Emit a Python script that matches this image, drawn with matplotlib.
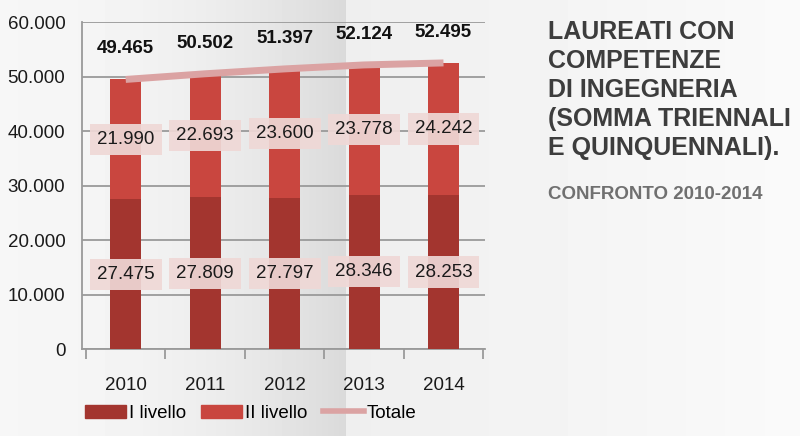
import numpy as np
import matplotlib.pyplot as plt
from matplotlib.ticker import FuncFormatter
from matplotlib.patches import Patch
from matplotlib.lines import Line2D

years = ['2010', '2011', '2012', '2013', '2014']
livello_1 = [27475, 27809, 27797, 28346, 28253]
livello_2 = [21990, 22693, 23600, 23778, 24242]
totale = [49465, 50502, 51397, 52124, 52495]

c_l1 = '#a3352f'
c_l2 = '#c9463f'
c_tot = '#dba3a3'
c_box = '#efd8d6'

def fmt_it(v):
    return f'{v:,.0f}'.replace(',', '.')

plt.rcParams['font.family'] = ['Liberation Sans', 'DejaVu Sans']

fig = plt.figure(figsize=(8, 4.36), dpi=100)

# background: light gray gradient with darker band, then lighter right side
bg = fig.add_axes([0, 0, 1, 1], zorder=-10)
xs = np.linspace(0, 1, 800)
edge = 0.432
vals = np.where(xs < edge, 0.965 - 0.11 * (xs / edge) ** 2.2, 0.935 + 0.045 * (xs - edge) / (1 - edge))
bg.imshow(vals[None, :], aspect='auto', cmap='gray', vmin=0, vmax=1, extent=[0, 1, 0, 1])
bg.axis('off')

ax = fig.add_axes([0.1025, 0.1995, 0.5035, 0.75])
ax.patch.set_alpha(0)
x = np.arange(len(years))
w = 0.39

ax.bar(x, livello_1, w, color=c_l1, zorder=3)
ax.bar(x, livello_2, w, bottom=livello_1, color=c_l2, zorder=3)
ax.plot(x, totale, color=c_tot, lw=5, solid_capstyle='butt', zorder=4)

box = dict(boxstyle='square,pad=0.38', fc=c_box, ec='none', alpha=0.92)
for i in range(len(years)):
    ax.text(x[i], livello_1[i] / 2, fmt_it(livello_1[i]), ha='center', va='center',
            fontsize=13.5, color='#1a1a1a', bbox=box, zorder=5)
    ax.text(x[i], livello_1[i] + livello_2[i] / 2, fmt_it(livello_2[i]), ha='center', va='center',
            fontsize=13.5, color='#1a1a1a', bbox=box, zorder=5)
    ax.annotate(fmt_it(totale[i]), (x[i], totale[i]), xytext=(0, 22), textcoords='offset points',
                ha='center', va='center', fontsize=13.5, fontweight='bold', color='#111111', zorder=5)

ax.set_ylim(0, 60000)
ax.set_xlim(-0.55, 4.52)
ax.set_yticks(range(0, 60001, 10000))
ax.yaxis.set_major_formatter(FuncFormatter(lambda v, p: fmt_it(v)))
ax.grid(axis='y', color='#9a9a9a', lw=1.3, zorder=1)
ax.set_xticks(x)
ax.set_xticklabels(years)
ax.set_xticks(np.arange(-0.5, 4.6, 1), minor=True)
ax.tick_params(axis='x', which='major', length=0, pad=20, labelsize=13.5, labelcolor='#1a1a1a')
ax.tick_params(axis='x', which='minor', length=7, width=1.3, color='#9a9a9a', direction='out')
ax.tick_params(axis='y', length=0, pad=12, labelsize=13.5, labelcolor='#1a1a1a')
for s in ['top', 'right']:
    ax.spines[s].set_visible(False)
for s in ['left', 'bottom']:
    ax.spines[s].set_color('#9a9a9a')
    ax.spines[s].set_linewidth(1.3)

handles = [Patch(color=c_l1), Patch(color=c_l2), Line2D([0], [0], color=c_tot, lw=4)]
fig.legend(handles, ['I livello', 'II livello', 'Totale'], loc='center left',
           bbox_to_anchor=(0.085, 0.052), ncol=3, frameon=False, fontsize=13.5,
           handlelength=2.2, handleheight=0.75, handletextpad=0.15, columnspacing=0.8)

title = 'LAUREATI CON\nCOMPETENZE\nDI INGEGNERIA\n(SOMMA TRIENNALI\nE QUINQUENNALI).'
fig.text(0.685, 0.955, title, ha='left', va='top', fontsize=18, fontweight='bold',
         color='#3d3d3d', linespacing=1.27)
fig.text(0.685, 0.553, 'CONFRONTO 2010-2014', ha='left', va='center', fontsize=13.5,
         fontweight='bold', color='#707070')

fig.savefig('out.png', dpi=100)
